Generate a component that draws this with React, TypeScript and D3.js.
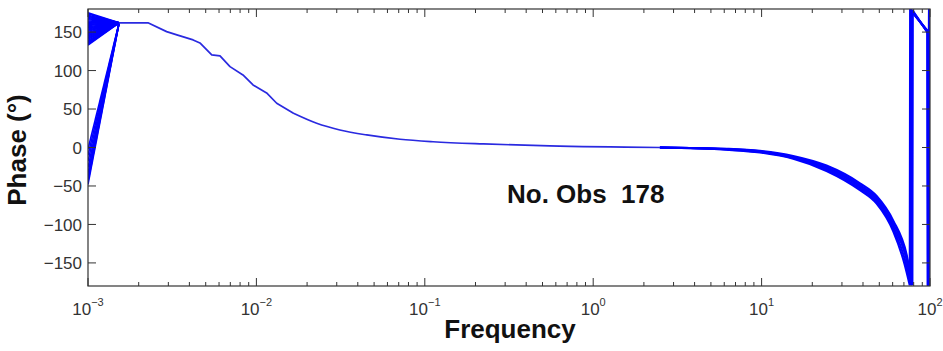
import React from 'react';
import * as d3 from 'd3';

const W = 943;
const H = 351;
const PLOT = { left: 88, right: 930, top: 9, bottom: 286 };

// Fan of observations at the lowest frequencies (phase at 0.001 Hz, converging at 0.00153 Hz)
const fanStartFreq = 0.001;
const fanEndFreq = 0.00153;
const fanEndPhase = 162;
const fanStartPhase = [175, 173.5, 172, 170.5, 169, 167.5, 166, 164.5, 163, 161.5, 160, 158.5, 157, 155.5, 154, 152.5, 151, 149.5, 148, 146.5, 145, 143.5, 142, 140.5, 139, 137.5, 136, 134.5, 133, -2, -10, -18, -26, -33, -39, -44, -48];

// Common phase curve (all observations overlap here)
const mainFreq = [0.00153, 0.00227, 0.00293, 0.00337, 0.00421, 0.00462, 0.00543, 0.00608, 0.00697, 0.00832, 0.00955, 0.0115, 0.0132, 0.0166, 0.0228, 0.0313, 0.0452, 0.0713, 0.112, 0.223, 0.553, 2.49];
const mainPhase = [162, 162, 150.6, 146.3, 139.8, 135.9, 120.3, 119.0, 105.1, 94.3, 81.3, 70.9, 57.5, 44.5, 31.5, 22.8, 16.3, 10.7, 7.5, 4.6, 2.0, 0];

// High-frequency spread of the observations, with phase wrapping at ±180°
// (the 10th value is the lowest point before the wrap)
const tailFreqA = [2.49, 6.21, 9.77, 15.4, 24.3, 38.4, 48.2, 60.5, 72.6, 78.6, 79.0, 97.6, 98.2, 99.5, 100];
const tailPhaseA = [0, -1.7, -4.3, -11, -23.5, -46.5, -63, -95, -139, -179, 178, 148, -179, 179, 176];
const tailFreqAB = [2.49, 6.21, 9.77, 15.4, 24.3, 38.4, 48.2, 60.5, 72.6, 78.0, 78.4, 97.3, 97.9, 99.2, 100];
const tailPhaseAB = [0, -2.0, -4.9, -11.9, -25.3, -48.8, -65.5, -99, -142.5, -179, 178, 149, -179, 178, 175];
const tailFreqB = [2.49, 6.21, 9.77, 15.4, 24.3, 38.4, 48.2, 60.5, 72.6, 77.4, 77.8, 97.0, 97.5, 99.0, 100];
const tailPhaseB = [0, -2.3, -5.4, -12.8, -27, -51, -68, -103, -146, -178, 178, 150, -179, 178, 175];
const tailFreqBC = [2.49, 6.21, 9.77, 15.4, 24.3, 38.4, 48.2, 60.5, 71.5, 76.6, 77.0, 96.7, 97.2, 98.8, 100];
const tailPhaseBC = [0, -2.6, -5.9, -13.7, -28.7, -53.2, -70.5, -106, -148.5, -179, 179, 151, -179, 179, 176];
const tailFreqC = [2.49, 6.21, 9.77, 15.4, 24.3, 38.4, 48.2, 60.5, 70.5, 75.8, 76.2, 96.4, 96.9, 98.6, 100];
const tailPhaseC = [0, -2.9, -6.5, -14.6, -30.5, -55.5, -73, -109, -151, -179, 179, 152, -179, 179, 177];
const wrapIndex = 9;

const yTicks = [-150, -100, -50, 0, 50, 100, 150];
const xDecades = [-3, -2, -1, 0, 1, 2];
const minorMultipliers = [2, 3, 4, 5, 6, 7, 8, 9];

const annotation = 'No. Obs  178';
const xLabel = 'Frequency';
const yLabel = 'Phase (°)';

const FONT = '"Liberation Sans", Arial, Helvetica, sans-serif';

export default function App() {
  const x = d3.scaleLog().domain([1e-3, 1e2]).range([PLOT.left, PLOT.right]);
  const y = d3.scaleLinear().domain([-180, 180]).range([PLOT.bottom, PLOT.top]);
  const line = d3
    .line<[number, number]>()
    .x((d) => x(d[0]))
    .y((d) => y(d[1]));
  const smooth = d3
    .line<[number, number]>()
    .x((d) => x(d[0]))
    .y((d) => y(d[1]))
    .curve(d3.curveMonotoneX);

  const zip = (f: number[], p: number[]) => f.map((v, i) => [v, p[i]] as [number, number]);

  const fanPaths = fanStartPhase.map((p) =>
    line([
      [fanStartFreq, p],
      [fanEndFreq, fanEndPhase],
    ])
  );
  const mainPts = zip(mainFreq, mainPhase);
  const mainPath = line(mainPts.slice(0, 14)) + ' ' + smooth(mainPts.slice(13));
  const tailData = [
    zip(tailFreqA, tailPhaseA),
    zip(tailFreqAB, tailPhaseAB),
    zip(tailFreqB, tailPhaseB),
    zip(tailFreqBC, tailPhaseBC),
    zip(tailFreqC, tailPhaseC),
  ];
  const tails = tailData.map((d) => smooth(d.slice(0, wrapIndex + 1)) + ' ' + line(d.slice(wrapIndex)));

  const minorTicks: number[] = [];
  xDecades.slice(0, -1).forEach((e) => minorMultipliers.forEach((m) => minorTicks.push(m * Math.pow(10, e))));

  const axisColor = '#333';
  const major = 8;
  const minor = 4;

  return (
    <svg
      width={W}
      height={H}
      viewBox={`0 0 ${W} ${H}`}
      style={{ position: 'absolute', left: 0, top: 0, background: '#fff' }}
      fontFamily={FONT}
    >
      <defs>
        <clipPath id="plotClip">
          <rect x={PLOT.left} y={PLOT.top} width={PLOT.right - PLOT.left} height={PLOT.bottom - PLOT.top} />
        </clipPath>
      </defs>
      <rect x={0} y={0} width={W} height={H} fill="#fff" />

      <g clipPath="url(#plotClip)" fill="none" strokeLinejoin="round">
        {fanPaths.map((d, i) => (
          <path key={'f' + i} d={d || ''} stroke="#0000ff" strokeWidth={1.6} />
        ))}
        <path d={mainPath} stroke="#2a2ae0" strokeWidth={1.7} />
        {tails.map((d, i) => (
          <path key={'t' + i} d={d} stroke="#0000ff" strokeWidth={2.1} />
        ))}
      </g>

      {/* axis box */}
      <rect
        x={PLOT.left}
        y={PLOT.top}
        width={PLOT.right - PLOT.left}
        height={PLOT.bottom - PLOT.top}
        fill="none"
        stroke={axisColor}
        strokeWidth={1.2}
      />

      {/* y ticks */}
      {yTicks.map((t) => (
        <g key={'y' + t}>
          <line x1={PLOT.left} x2={PLOT.left + major} y1={y(t)} y2={y(t)} stroke={axisColor} strokeWidth={1} />
          <line x1={PLOT.right} x2={PLOT.right - major} y1={y(t)} y2={y(t)} stroke={axisColor} strokeWidth={1} />
          <text x={PLOT.left - 6} y={y(t)} dy="0.36em" textAnchor="end" fontSize={17} fill="#333">
            {t < 0 ? '\u2212' + Math.abs(t) : String(t)}
          </text>
        </g>
      ))}

      {/* x minor ticks */}
      {minorTicks.map((t, i) => (
        <g key={'m' + i}>
          <line x1={x(t)} x2={x(t)} y1={PLOT.bottom} y2={PLOT.bottom - minor} stroke={axisColor} strokeWidth={1} />
          <line x1={x(t)} x2={x(t)} y1={PLOT.top} y2={PLOT.top + minor} stroke={axisColor} strokeWidth={1} />
        </g>
      ))}

      {/* x major ticks and labels */}
      {xDecades.map((e) => {
        const xv = x(Math.pow(10, e));
        return (
          <g key={'x' + e}>
            <line x1={xv} x2={xv} y1={PLOT.bottom} y2={PLOT.bottom - major} stroke={axisColor} strokeWidth={1} />
            <line x1={xv} x2={xv} y1={PLOT.top} y2={PLOT.top + major} stroke={axisColor} strokeWidth={1} />
            <text x={xv} y={315} textAnchor="middle" fill="#333">
              <tspan fontSize={17}>10</tspan>
              <tspan fontSize={11} dy={-9}>
                {e < 0 ? '\u2212' + Math.abs(e) : String(e)}
              </tspan>
            </text>
          </g>
        );
      })}

      {/* annotation */}
      <text x={507} y={203} fontSize={26} fontWeight="bold" fill="#111" style={{ whiteSpace: 'pre' }}>
        {annotation}
      </text>

      {/* axis labels */}
      <text x={510} y={338} textAnchor="middle" fontSize={26} fontWeight="bold" fill="#111">
        {xLabel}
      </text>
      <text
        transform="translate(26,150) rotate(-90)"
        textAnchor="middle"
        fontSize={26}
        fontWeight="bold"
        fill="#111"
      >
        {yLabel}
      </text>
    </svg>
  );
}
